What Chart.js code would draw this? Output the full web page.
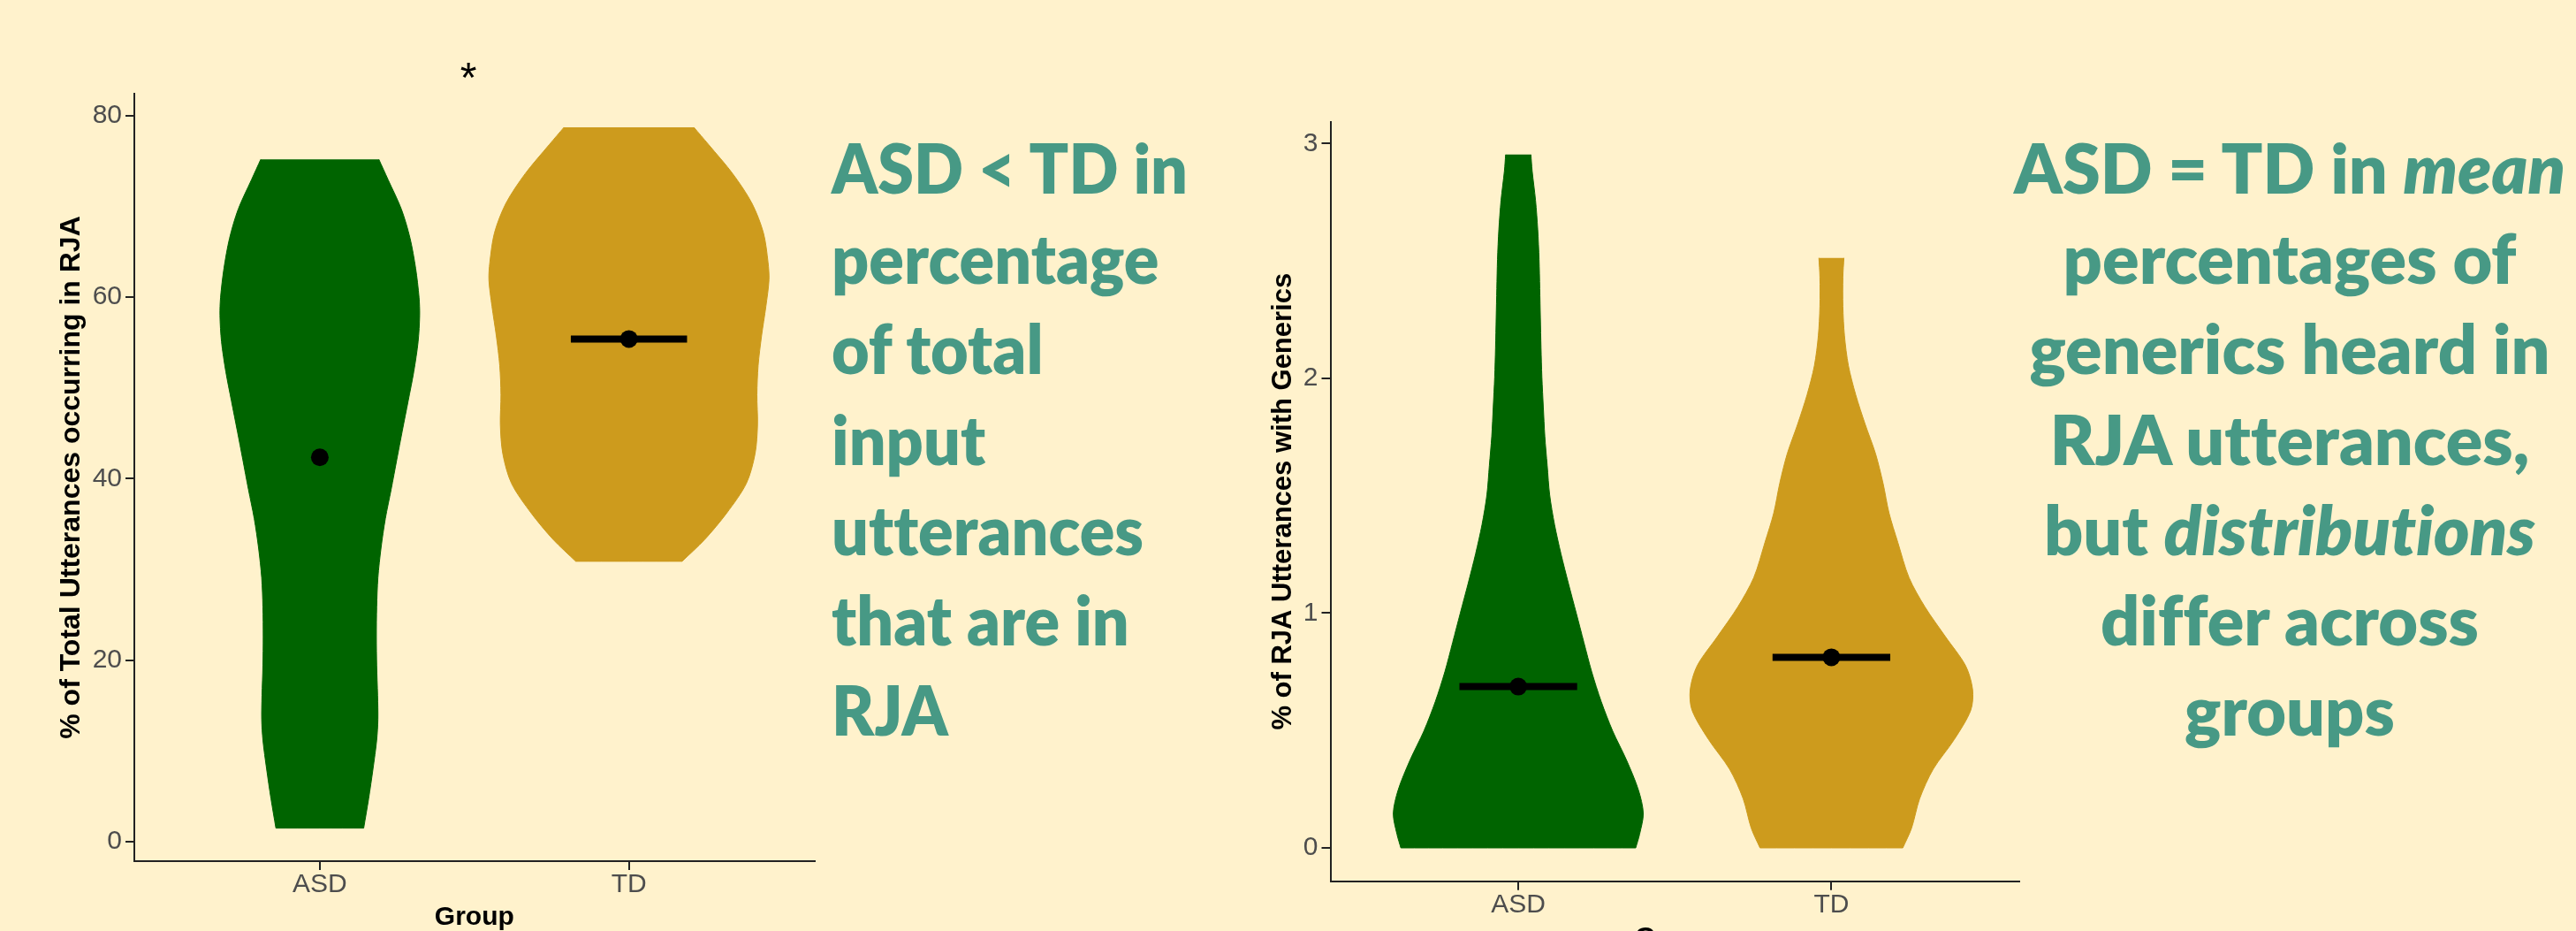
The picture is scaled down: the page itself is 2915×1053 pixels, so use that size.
<!DOCTYPE html>
<html>
<head>
<meta charset="utf-8">
<script src="https://cdn.jsdelivr.net/npm/chart.js@4.4.1/dist/chart.umd.min.js"></script>
<style>
    html, body { margin: 0; padding: 0; background: #fff2cc; overflow: hidden; }
    #stage { position: relative; width: 2915px; height: 1053px; overflow: hidden; }
    canvas { position: absolute; top: 0; }
    #rjaChart { left: 0; }
    #genChart { left: 1380px; }
    .note {
        position: absolute;
        font-family: Lato, "Open Sans", sans-serif;
        font-weight: 800;
        font-size: 78px;
        color: #479985;
        white-space: nowrap;
        font-variant-ligatures: none;
        z-index: 2;
    }
    .note div { height: 102.2px; line-height: 102.2px; }
    #note1 { left: 941px; top: 138px; transform-origin: 0 0; }
    #note2 { left: 2261px; top: 138px; width: 660px; text-align: center; transform-origin: 50% 0; }
    #star {
        position: absolute; left: 480px; top: 64px; width: 100px; text-align: center;
        font-family: "Liberation Sans", Arial, sans-serif; font-size: 48px; line-height: 48px; color: #000;
    }
</style>
</head>
<body>
<div id="stage">
    <canvas id="rjaChart" width="1000" height="1053"></canvas>
    <canvas id="genChart" width="1000" height="1080"></canvas>
    <div id="star">*</div>
    <div id="note1" class="note">
        <div><span>ASD &lt; TD in</span></div>
        <div>percentage</div>
        <div>of total</div>
        <div>input</div>
        <div>utterances</div>
        <div>that are in</div>
        <div>RJA</div>
    </div>
    <div id="note2" class="note">
        <div><span>ASD = TD in <i>mean</i></span></div>
        <div>percentages of</div>
        <div>generics heard in</div>
        <div>RJA utterances,</div>
        <div>but <i>distributions</i></div>
        <div>differ across</div>
        <div>groups</div>
    </div>
</div>
<script>
(function () {
    'use strict';

    var GROUPS = ['ASD', 'TD'];
    var GROUP_COLORS = ['#006400', '#cd9b1d'];

    // left plot: % of total utterances occurring in RJA
    var RJA_Y_TICKS = [0, 20, 40, 60, 80];
    var RJA_ASD_LEVELS = [75.2, 72.95, 69.7, 66.5, 63.2, 60.0, 58.0, 55.1, 51.8, 48.6, 45.3, 42.1, 38.85,
        35.6, 32.35, 29.1, 25.85, 22.6, 19.4, 16.1, 13.5, 11.2, 8.0, 4.75, 1.5];
    var RJA_ASD_WIDTHS = [0.191, 0.221, 0.264, 0.292, 0.310, 0.321, 0.323, 0.318, 0.304, 0.286, 0.267, 0.249, 0.231,
        0.212, 0.198, 0.188, 0.184, 0.183, 0.184, 0.187, 0.188, 0.184, 0.172, 0.158, 0.142];
    var RJA_TD_LEVELS = [78.73, 76.85, 73.6, 70.35, 67.1, 63.85, 61.9, 58.98, 55.74, 52.49, 49.24, 46.0,
        42.75, 39.5, 36.25, 33.3, 30.9];
    var RJA_TD_WIDTHS = [0.210, 0.257, 0.336, 0.398, 0.435, 0.450, 0.453, 0.443, 0.429, 0.418, 0.414, 0.416,
        0.408, 0.380, 0.317, 0.245, 0.172];
    var RJA_MEANS = [42.36, 55.4];
    var RJA_MEAN_BAR = [false, true];

    // right plot: % of RJA utterances with generics
    var GEN_Y_TICKS = [0, 1, 2, 3];
    var GEN_ASD_LEVELS = [2.953, 2.884, 2.758, 2.633, 2.507, 2.382, 2.256, 2.131, 2.005, 1.879, 1.754, 1.628,
        1.503, 1.377, 1.252, 1.126, 1.001, 0.875, 0.750, 0.624, 0.498, 0.373, 0.247, 0.147, 0.059, 0];
    var GEN_ASD_WIDTHS = [0.0404, 0.0443, 0.0551, 0.0621, 0.0664, 0.0686, 0.0706, 0.0726, 0.0754, 0.0799, 0.0847, 0.0924,
        0.1003, 0.1158, 0.1364, 0.1602, 0.185, 0.2096, 0.2345, 0.2647, 0.3014, 0.346, 0.3836, 0.3992, 0.3876, 0.3751];
    var GEN_TD_LEVELS = [2.513, 2.432, 2.306, 2.181, 2.055, 1.930, 1.804, 1.679, 1.553, 1.427, 1.302, 1.151,
        1.026, 0.900, 0.775, 0.674, 0.586, 0.461, 0.335, 0.210, 0.084, 0];
    var GEN_TD_WIDTHS = [0.040, 0.0367, 0.0367, 0.0418, 0.0542, 0.0777, 0.108, 0.141, 0.165, 0.184, 0.212, 0.248,
        0.299, 0.364, 0.429, 0.451, 0.445, 0.392, 0.325, 0.282, 0.256, 0.228];
    var GEN_MEANS = [0.687, 0.812];
    var GEN_MEAN_BAR = [true, true];

    var MEAN_BAR_HALF = 0.188;
    var AXIS_FONT = '"Liberation Sans", Arial, sans-serif';

    // closed outline: down the left side, back up the right side.
    // the bottom corners are listed twice so the smoothing keeps them sharp
    function violinOutline(center, levels, widths) {
        var pts = [];
        var last = levels.length - 1;
        var i;
        for (i = 0; i <= last; i++) {
            pts.push({ x: center - widths[i], y: levels[i] });
        }
        pts.push({ x: center - widths[last], y: levels[last] });
        pts.push({ x: center + widths[last], y: levels[last] });
        for (i = last; i >= 0; i--) {
            pts.push({ x: center + widths[i], y: levels[i] });
        }
        return pts;
    }

    function buildDatasets(violins, means, bars) {
        var ds = [];
        for (var g = 0; g < GROUPS.length; g++) {
            var center = g + 1;
            ds.push({
                label: GROUPS[g],
                data: violinOutline(center, violins[g][0], violins[g][1]),
                borderColor: GROUP_COLORS[g],
                backgroundColor: GROUP_COLORS[g],
                borderWidth: 1,
                pointRadius: 0,
                tension: 0.3,
                fill: 'shape',
                order: 2
            });
            if (bars[g]) {
                ds.push({
                    label: GROUPS[g] + ' mean bar',
                    data: [{ x: center - MEAN_BAR_HALF, y: means[g] }, { x: center + MEAN_BAR_HALF, y: means[g] }],
                    borderColor: '#000',
                    borderWidth: 8,
                    borderCapStyle: 'butt',
                    pointRadius: 0,
                    tension: 0,
                    fill: false,
                    order: 1
                });
            }
            ds.push({
                label: GROUPS[g] + ' mean',
                data: [{ x: center, y: means[g] }],
                showLine: false,
                pointRadius: 10,
                pointBackgroundColor: '#000',
                pointBorderWidth: 0,
                order: 0
            });
        }
        return ds;
    }

    function makeChart(canvas, opts) {
        return new Chart(canvas, {
            type: 'line',
            data: { datasets: opts.datasets },
            options: {
                responsive: false,
                animation: false,
                devicePixelRatio: 1,
                layout: { padding: { left: 0, top: opts.top, right: opts.right, bottom: 0 } },
                plugins: { legend: { display: false }, tooltip: { enabled: false } },
                scales: {
                    x: {
                        type: 'linear',
                        min: 0.4,
                        max: 2.6,
                        afterBuildTicks: function (scale) {
                            scale.ticks = [{ value: 1 }, { value: 2 }];
                        },
                        afterFit: function (scale) { scale.height = opts.xHeight; },
                        ticks: {
                            callback: function (v) { return GROUPS[v - 1]; },
                            font: { family: AXIS_FONT, size: 30, lineHeight: 1 },
                            color: '#4d4d4d',
                            padding: 2,
                            maxRotation: 0
                        },
                        grid: { display: true, drawOnChartArea: false, drawTicks: true, tickLength: 10, color: '#222', lineWidth: 2 },
                        border: { display: true, color: '#222', width: 2 },
                        title: {
                            display: true,
                            text: 'Group',
                            color: '#000',
                            font: { family: AXIS_FONT, size: 30, weight: 'bold', lineHeight: 1 },
                            padding: { top: 0, bottom: opts.groupPad }
                        }
                    },
                    y: {
                        type: 'linear',
                        min: opts.yMin,
                        max: opts.yMax,
                        afterBuildTicks: function (scale) {
                            scale.ticks = opts.yTicks.map(function (v) { return { value: v }; });
                        },
                        afterFit: function (scale) { scale.width = opts.yWidth; },
                        ticks: {
                            font: { family: AXIS_FONT, size: 30, lineHeight: 1 },
                            color: '#4d4d4d',
                            padding: 4
                        },
                        grid: { display: true, drawOnChartArea: false, drawTicks: true, tickLength: 10, color: '#222', lineWidth: 2 },
                        border: { display: true, color: '#222', width: 2 },
                        title: {
                            display: true,
                            text: opts.yTitle,
                            color: '#000',
                            font: { family: AXIS_FONT, size: opts.yTitleSize, weight: 'bold', lineHeight: 1 },
                            padding: { top: opts.yTitlePad, bottom: 0 }
                        }
                    }
                }
            }
        });
    }

    makeChart(document.getElementById('rjaChart'), {
        datasets: buildDatasets([[RJA_ASD_LEVELS, RJA_ASD_WIDTHS], [RJA_TD_LEVELS, RJA_TD_WIDTHS]], RJA_MEANS, RJA_MEAN_BAR),
        top: 106, right: 78.4, xHeight: 79, yWidth: 152,
        yMin: -2.14, yMax: 82.43, yTicks: RJA_Y_TICKS,
        yTitle: '% of Total Utterances occurring in RJA', yTitleSize: 32, yTitlePad: 65, groupPad: 0
    });

    makeChart(document.getElementById('genChart'), {
        datasets: buildDatasets([[GEN_ASD_LEVELS, GEN_ASD_WIDTHS], [GEN_TD_LEVELS, GEN_TD_WIDTHS]], GEN_MEANS, GEN_MEAN_BAR),
        top: 137.7, right: 95, xHeight: 83.3, yWidth: 125.5,
        yMin: -0.142, yMax: 3.093, yTicks: GEN_Y_TICKS,
        yTitle: '% of RJA Utterances with Generics', yTitleSize: 31, yTitlePad: 56.5, groupPad: 4.5
    });

    // squeeze the notes so their first line spans the same width as the original
    function fitNote(id, target) {
        var el = document.getElementById(id);
        var w = el.querySelector('span').getBoundingClientRect().width;
        if (w > 0) { el.style.transform = 'scaleX(' + (target / w).toFixed(4) + ')'; }
    }
    fitNote('note1', 403);
    fitNote('note2', 624);
})();
</script>
</body>
</html>
